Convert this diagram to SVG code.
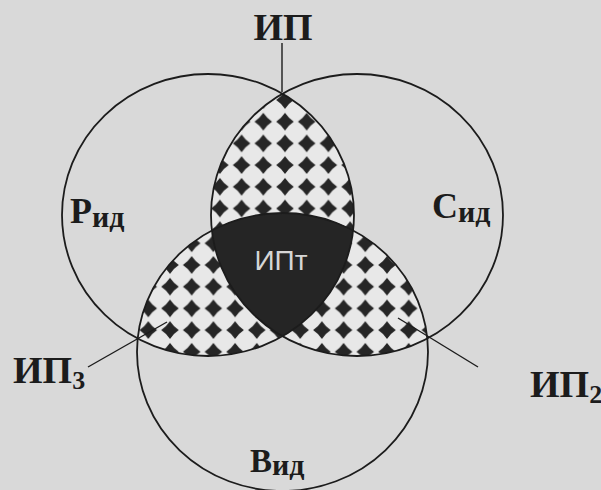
<svg xmlns="http://www.w3.org/2000/svg" width="601" height="490" viewBox="0 0 601 490">
<defs>
<style>
.ring{fill:none;stroke:#1c1c1c;stroke-width:1.8}
.lbl{font-family:"Liberation Serif","Times New Roman",serif;font-weight:bold;fill:#1c1c1c}
.lead{stroke:#1c1c1c;stroke-width:1.4;fill:none}
.dia{fill:#262626}
</style>
<clipPath id="cL"><ellipse cx="208" cy="215" rx="146" ry="141"/></clipPath>
<clipPath id="cR"><ellipse cx="357" cy="215" rx="146" ry="141"/></clipPath>
<clipPath id="cB"><ellipse cx="282.5" cy="352" rx="145.5" ry="139"/></clipPath>
<path id="dia" d="M0,-8.8 Q3.5,-3.5 8.8,0 Q3.5,3.5 0,8.8 Q-3.5,3.5 -8.8,0 Q-3.5,-3.5 0,-8.8Z"/>
<pattern id="pTop" patternUnits="userSpaceOnUse" x="274.15" y="89.15" width="21.7" height="21.7">
<rect width="21.7" height="21.7" fill="#e8e8e8"/>
<use href="#dia" class="dia" x="10.85" y="10.85"/>
</pattern>
<pattern id="pLow" patternUnits="userSpaceOnUse" x="137.45" y="254.15" width="21.7" height="21.7">
<rect width="21.7" height="21.7" fill="#e8e8e8"/>
<use href="#dia" class="dia" x="10.85" y="10.85"/>
</pattern>
</defs>
<rect width="601" height="490" fill="#d9d9d9"/>

<g id="region-top">
<g clip-path="url(#cL)"><rect clip-path="url(#cR)" x="0" y="0" width="601" height="490" fill="url(#pTop)"/></g>
</g>
<g id="region-left">
<g clip-path="url(#cL)"><rect clip-path="url(#cB)" x="0" y="0" width="601" height="490" fill="url(#pLow)"/></g>
</g>
<g id="region-right">
<g clip-path="url(#cR)"><rect clip-path="url(#cB)" x="0" y="0" width="601" height="490" fill="url(#pLow)"/></g>
</g>
<g id="IPt">
<g clip-path="url(#cL)"><g clip-path="url(#cR)"><rect clip-path="url(#cB)" x="0" y="0" width="601" height="490" fill="#252525"/></g></g>
<text x="281" y="270" text-anchor="middle" font-family="'Liberation Sans',Arial,sans-serif" font-size="28" fill="#d6d6d6">ИПт</text>
</g>

<g id="R-id">
<ellipse class="ring" cx="208" cy="215" rx="146" ry="141"/>
<text class="lbl" x="70" y="223" font-size="36">Р<tspan font-size="30" dy="4">ид</tspan></text>
</g>
<g id="S-id">
<ellipse class="ring" cx="357" cy="215" rx="146" ry="141"/>
<text class="lbl" x="432" y="218" font-size="36">С<tspan font-size="30" dy="4">ид</tspan></text>
</g>
<g id="V-id">
<ellipse class="ring" cx="282.5" cy="352" rx="145.5" ry="139"/>
<text class="lbl" x="250" y="472" font-size="33">В<tspan font-size="30" dy="3">ид</tspan></text>
</g>

<g id="IP"><text class="lbl" x="283" y="40" font-size="38" text-anchor="middle">ИП</text></g>
<g id="IP3"><text class="lbl" x="13" y="383" font-size="38">ИП<tspan font-size="26" dy="6">3</tspan></text></g>
<g id="IP2"><text class="lbl" x="530" y="397" font-size="38">ИП<tspan font-size="26" dy="6">2</tspan></text></g>

<g id="connectors">
<path class="lead" d="M282,43 V92"/>
<path class="lead" d="M88,367 L167,322"/>
<path class="lead" d="M398,318 L478,367"/>
</g>
</svg>
